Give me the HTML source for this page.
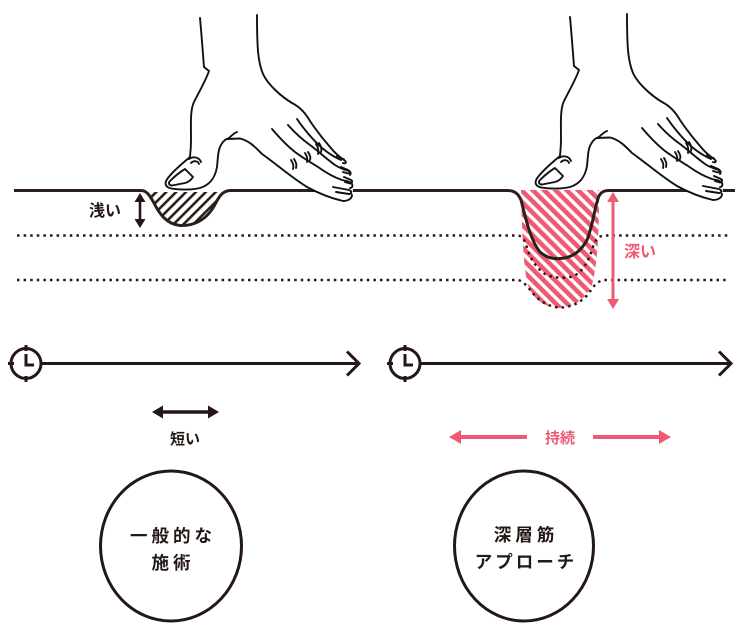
<!DOCTYPE html>
<html>
<head>
<meta charset="utf-8">
<style>
  html,body{margin:0;padding:0;background:#fff;}
  body{width:750px;height:640px;overflow:hidden;}
  svg{display:block;}
  text{font-family:"Liberation Sans","Noto Sans CJK JP",sans-serif;font-weight:bold;}
</style>
</head>
<body>
<svg width="750" height="640" viewBox="0 0 750 640" xmlns="http://www.w3.org/2000/svg">
  <defs>
    <pattern id="hatchL" patternUnits="userSpaceOnUse" width="7" height="7" patternTransform="rotate(45)">
      <rect x="0" y="0" width="2.6" height="7" fill="#2a1f1c"/>
    </pattern>
    <pattern id="hatchR" patternUnits="userSpaceOnUse" width="8" height="8" patternTransform="rotate(-45)">
      <rect x="0" y="0" width="4.6" height="8" fill="#ef5a73"/>
    </pattern>
    <g id="hand">
      <path fill="#fff" stroke="none" d="M200,18 C202,40 203,55 204,67 L209,71 C206,80 199,92 194,102 C190,110 191,125 191,140 C191,150 190,155 190,157 C184,162 174,170 168,178 C164,183 165,187 171,188.5 C180,190 192,190 200,188 C210,185 215,178 217,167 C218,157 218,150 221,145 C223,141 226,139 229,138 L240,138.5 C250,141 256,148 262,154 C275,163 292,178 307,187 C318,193 330,198 343,201 C349,201 352,198 352,195 C354,190 352,185 353,182 C354,177 351,172 349,170 C350,166 347,162 344,160 C338,156 334,152 330,147 C323,139 316,130 310,121 C306,114 300,107 292,103 C282,97 268,85 263,74 C258,62 257,48 257,15 Z"/>
      <g fill="none" stroke="#111" stroke-width="1.9" stroke-linecap="round" stroke-linejoin="round">
        <path d="M200,18 C202,40 203,55 204,67 L209,71 C206,80 199,92 194,102 C190,110 191,125 191,140 C191,150 190,155 190,157 C184,162 174,170 168,178 C164,183 165,187 171,188.5 C180,190 192,190 200,188 C210,185 215,178 217,167 C218,157 218,150 221,145 C223,141 226,139 229,138"/>
        <path d="M228,139 C231,136 234,133 237,132"/>
        <path d="M227,139 L240,138.5 C250,141 256,148 262,154 C275,163 292,178 307,187 C318,193 330,198 343,201 C349,201 352,198 352,195"/>
        <path d="M257,15 C257,48 258,62 263,74 C268,85 282,97 292,103 C300,107 306,114 310,121 C316,130 323,139 330,147 C334,152 338,156 344,160 C347,162 346,164 343,163"/>
        <path d="M297,119 C303,128 313,140 322,148 C328,153 334,157 341,160"/>
        <path d="M288,125 C295,133 303,140 310,145 C317,150 324,157 335,165 C341,169 346,170 349,171 C351,172 351,174 350,175"/>
        <path d="M272,129 C278,136 286,145 295,152 C303,158 310,162 318,167 C325,172 333,177 342,180 C347,181 351,182 352,184 C353,186 352,188 350,188"/>
        <path d="M337,156 L344,159.5"/>
        <path d="M341,167 L348,170 C350,171 350,173 348,173.5 L343,172"/>
        <path d="M344,177 L351,180 C353,181 352,183.5 350,183.5 L345,182"/>
        <path d="M333,187 L349,190 C352,191 352,194 349,194 L336,192"/>
        <path d="M316,144 C318,147 319,150 318,154"/>
        <path d="M319,143 C321,146 322,149 321,152"/>
        <path d="M305,153 C307,156 308,159 307,162"/>
        <path d="M308,152 C310,155 311,158 310,160"/>
        <path d="M291,160 C293,163 294,166 293,169"/>
        <path d="M294,159 C296,162 297,165 296,168"/>
        <path d="M170,181 C174,177 180,172 185,169 L193,177 C191,180 189,182 185,183 L172,185.5 C169,185.5 168,183 170,181 Z"/>
        <path d="M189,159 C193,156 199,157 201,162"/>
        <path d="M191,163 C194,160 198,161 199,164"/>
      </g>
    </g>
  </defs>

  <path fill="url(#hatchL)" d="M148,192 L226,192 C222,194 219,199 215,206 C208,218 196,225 180,225 C166,224 159,213 154,203 C152,198 150,194 148,192 Z"/>
  <path fill="url(#hatchR)" d="M521,190 L599,190 C599,230 598,262 592,285 C585,300 572,308 558,308 C543,307 534,298 529,288 C524,275 522,240 521,190 Z"/>

  <g fill="none" stroke="#231815" stroke-width="2.4" stroke-dasharray="2.5 4.1">
    <path d="M17,235.5 L518,235.5 C522,236 525,240 527,248 C530,258 536,268 545,274 C552,278 565,279 574,276 C583,271 588,262 592,250 C594,243 597,236 604,235.5 L729,235.5"/>
    <path d="M17,280 L518,280 C523,281 527,286 531,291 C537,299 546,306 558,307.5 C571,308 582,302 589,293 C593,287 597,281 604,280 L729,280"/>
  </g>

  <path fill="none" stroke="#2a1f1c" stroke-width="3" stroke-linejoin="round" d="M14,190.5 L141,190.5 C147,190.5 150,196 154,203 C159,213 166,224 180,225.5 C195,226 206,219 213,208 C218,199 221,191 230,190.5 L507,190.5 C514,190.5 518,193 521,200 C525,215 530,240 540,252 C547,258 553,259 560,258.5 C572,258 581,251 587,240 C593,225 595,205 599,196 C601,192 604,190.5 609,190.5 L735,190.5"/>

  <use href="#hand"/>
  <use href="#hand" transform="translate(370,-1)"/>

  <line x1="140" y1="199" x2="140" y2="222" stroke="#231815" stroke-width="2.6"/>
  <polygon points="140,193 134.5,202 145.5,202" fill="#231815"/>
  <polygon points="140,228 134.5,219 145.5,219" fill="#231815"/>
  <text x="105" y="216" font-size="16" fill="#231815" text-anchor="middle">浅い</text>

  <line x1="613" y1="200" x2="613" y2="301" stroke="#ef5a73" stroke-width="3"/>
  <polygon points="613,192 607,202 619,202" fill="#ef5a73"/>
  <polygon points="613,309 607,299 619,299" fill="#ef5a73"/>
  <text x="640" y="257" font-size="16" fill="#ef5a73" text-anchor="middle">深い</text>

  <g fill="none" stroke="#231815" stroke-width="3" stroke-linecap="butt">
    <circle cx="26" cy="363.5" r="15"/>
    <line x1="26" y1="345" x2="26" y2="351"/>
    <line x1="26" y1="376" x2="26" y2="382"/>
    <line x1="8" y1="363.5" x2="14" y2="363.5"/>
    <polyline points="26,354 26,365 34,365"/>
    <line x1="41" y1="363.5" x2="358" y2="363.5"/>
    <polyline points="347,351.5 359,363.5 347,375.5" stroke-linejoin="miter"/>

    <circle cx="405" cy="363.5" r="15"/>
    <line x1="405" y1="345" x2="405" y2="351"/>
    <line x1="405" y1="376" x2="405" y2="382"/>
    <line x1="387" y1="363.5" x2="393" y2="363.5"/>
    <polyline points="405,354 405,365 413,365"/>
    <line x1="420" y1="363.5" x2="731" y2="363.5"/>
    <polyline points="719,351.5 731,363.5 719,375.5" stroke-linejoin="miter"/>
  </g>

  <line x1="160" y1="412" x2="211" y2="412" stroke="#231815" stroke-width="3.5"/>
  <polygon points="152,412 163,405.5 163,418.5" fill="#231815"/>
  <polygon points="219,412 208,405.5 208,418.5" fill="#231815"/>
  <text x="185" y="444" font-size="15" fill="#231815" text-anchor="middle">短い</text>

  <line x1="458" y1="437" x2="527" y2="437" stroke="#ef5a73" stroke-width="4"/>
  <polygon points="449,437 461,430 461,444" fill="#ef5a73"/>
  <line x1="593" y1="437" x2="662" y2="437" stroke="#ef5a73" stroke-width="4"/>
  <polygon points="671,437 659,430 659,444" fill="#ef5a73"/>
  <text x="560" y="443" font-size="15" fill="#ef5a73" text-anchor="middle">持続</text>

  <ellipse cx="171" cy="546" rx="70.5" ry="75" fill="none" stroke="#231815" stroke-width="3"/>
  <ellipse cx="524" cy="546" rx="69.5" ry="75" fill="none" stroke="#231815" stroke-width="3"/>
  <text x="173" y="542" font-size="17.5" fill="#231815" text-anchor="middle" letter-spacing="4">一般的な</text>
  <text x="173" y="569" font-size="17.5" fill="#231815" text-anchor="middle" letter-spacing="4">施術</text>
  <text x="526" y="541" font-size="17.5" fill="#231815" text-anchor="middle" letter-spacing="4">深層筋</text>
  <text x="526" y="568" font-size="17.5" fill="#231815" text-anchor="middle" letter-spacing="3">アプローチ</text>
</svg>
</body>
</html>
